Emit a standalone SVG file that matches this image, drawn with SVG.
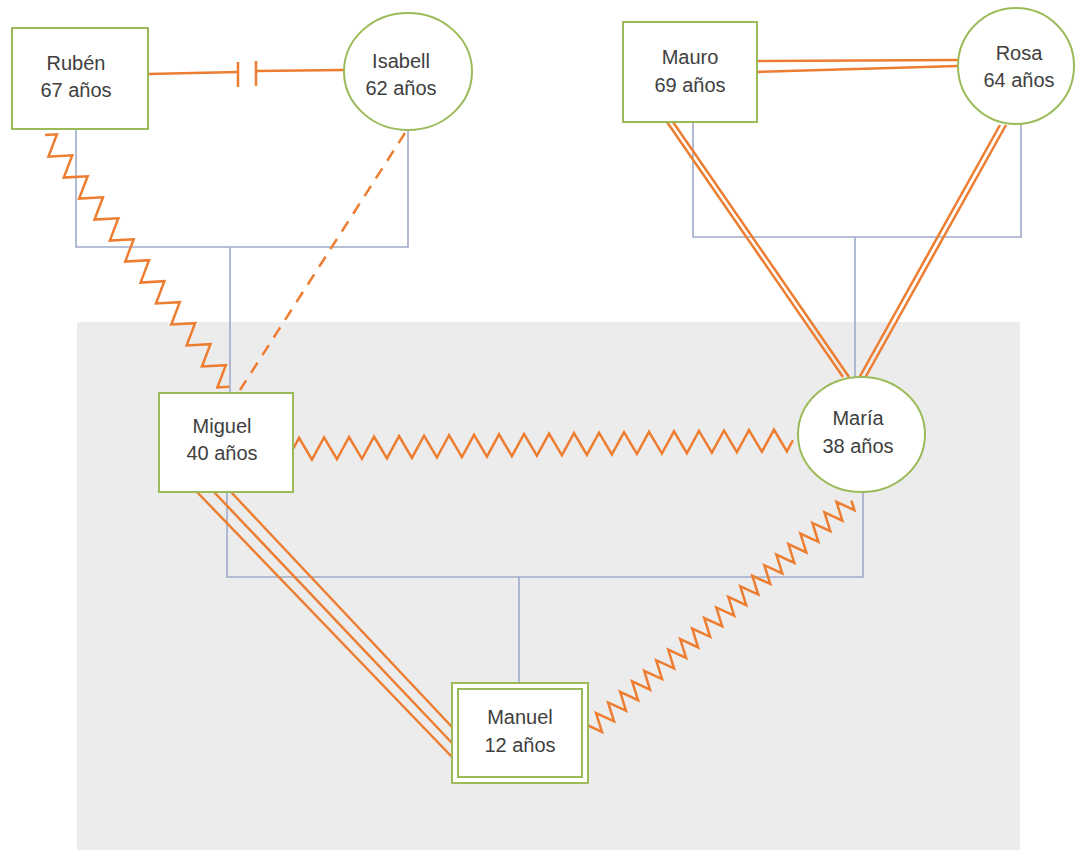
<svg xmlns="http://www.w3.org/2000/svg" width="1078" height="852" viewBox="0 0 1078 852">
<style>
.bg{fill:#ececec}
.fam{fill:none;stroke:#9fabc9;stroke-width:1.6}
.or{fill:none;stroke:#ed7d31;stroke-width:2.5;stroke-linejoin:miter}
.dash{fill:none;stroke:#ed7d31;stroke-width:2.5;stroke-dasharray:12 9}
.node{fill:#ffffff;stroke:#9bbb59;stroke-width:2}
.lbl{font-family:"Liberation Sans",Arial,sans-serif;font-size:20px;fill:#404040;text-anchor:middle}
</style>
<rect width="1078" height="852" fill="#ffffff"/>
<rect class="bg" x="77" y="322" width="943" height="528"/>

<g id="connectors">
  <!-- family (blue) lines -->
  <polyline class="fam" points="76,129 76,247 408,247 408,130"/>
  <line class="fam" x1="230" y1="247" x2="230" y2="393"/>
  <polyline class="fam" points="693,122 693,237 1021,237 1021,124"/>
  <line class="fam" x1="855" y1="237" x2="855" y2="377"/>
  <polyline class="fam" points="227,492 227,577 863,577 863,492"/>
  <line class="fam" x1="519" y1="577" x2="519" y2="683"/>

  <!-- Rubén - Isabell: cut-off -->
  <polyline class="or" points="148,74 238,72"/>
  <line class="or" x1="238" y1="62" x2="238" y2="87"/>
  <line class="or" x1="256" y1="61" x2="256" y2="86"/>
  <polyline class="or" points="256,71 344,70"/>

  <!-- Mauro - Rosa: double line -->
  <line class="or" x1="757" y1="61" x2="958" y2="60"/>
  <line class="or" x1="757" y1="72" x2="958" y2="66"/>

  <!-- Mauro - María double -->
  <line class="or" x1="667" y1="122" x2="843" y2="377"/>
  <line class="or" x1="673" y1="122" x2="849" y2="377"/>
  <!-- Rosa - María double -->
  <line class="or" x1="1000" y1="125" x2="859" y2="378"/>
  <line class="or" x1="1006" y1="125" x2="865" y2="378"/>

  <!-- Miguel - Manuel triple -->
  <line class="or" x1="197" y1="492" x2="452" y2="757"/>
  <line class="or" x1="214" y1="492" x2="452" y2="743"/>
  <line class="or" x1="231" y1="492" x2="452" y2="727"/>

  <!-- Isabell - Miguel dashed -->
  <line class="dash" x1="405" y1="133" x2="240" y2="390"/>

  <!-- Rubén - Miguel zigzag -->
  <g transform="translate(45,135) rotate(53.8)">
    <polyline class="or" points="0,0 6.5,-10 19.5,10 32.5,-10 45.5,10 58.5,-10 71.5,10 84.5,-10 97.5,10 110.5,-10 123.5,10 136.5,-10 149.5,10 162.5,-10 175.5,10 188.5,-10 201.5,10 214.5,-10 227.5,10 240.5,-10 253.5,10 266.5,-10 279.5,10 292.5,-10 305.5,10 312,0"/>
  </g>

  <!-- Miguel - María zigzag -->
  <g transform="translate(293,449) rotate(-1)">
    <polyline class="or" points="0,0 6.25,-11 18.75,11 31.25,-11 43.75,11 56.25,-11 68.75,11 81.25,-11 93.75,11 106.25,-11 118.75,11 131.25,-11 143.75,11 156.25,-11 168.75,11 181.25,-11 193.75,11 206.25,-11 218.75,11 231.25,-11 243.75,11 256.25,-11 268.75,11 281.25,-11 293.75,11 306.25,-11 318.75,11 331.25,-11 343.75,11 356.25,-11 368.75,11 381.25,-11 393.75,11 406.25,-11 418.75,11 431.25,-11 443.75,11 456.25,-11 468.75,11 481.25,-11 493.75,11 500,0"/>
  </g>

  <!-- Manuel - María zigzag -->
  <g transform="translate(587,733) rotate(-41.3)">
    <polyline class="or" points="0,0 4,-9 12,9 20,-9 28,9 36,-9 44,9 52,-9 60,9 68,-9 76,9 84,-9 92,9 100,-9 108,9 116,-9 124,9 132,-9 140,9 148,-9 156,9 164,-9 172,9 180,-9 188,9 196,-9 204,9 212,-9 220,9 228,-9 236,9 244,-9 252,9 260,-9 268,9 276,-9 284,9 292,-9 300,9 308,-9 316,9 324,-9 332,9 340,-9 348,9 352,0"/>
  </g>
</g>

<g id="ruben">
  <rect class="node" x="12" y="28" width="136" height="101"/>
  <text class="lbl" x="76" y="70">Rubén</text>
  <text class="lbl" x="76" y="97">67 años</text>
</g>
<g id="isabell">
  <ellipse class="node" cx="408" cy="71.5" rx="64" ry="58.5"/>
  <text class="lbl" x="401" y="68">Isabell</text>
  <text class="lbl" x="401" y="95">62 años</text>
</g>
<g id="mauro">
  <rect class="node" x="623" y="22" width="134" height="100"/>
  <text class="lbl" x="690" y="64">Mauro</text>
  <text class="lbl" x="690" y="92">69 años</text>
</g>
<g id="rosa">
  <ellipse class="node" cx="1016" cy="66" rx="58" ry="58"/>
  <text class="lbl" x="1019" y="60">Rosa</text>
  <text class="lbl" x="1019" y="87">64 años</text>
</g>
<g id="miguel">
  <rect class="node" x="159" y="393" width="134" height="99"/>
  <text class="lbl" x="222" y="433">Miguel</text>
  <text class="lbl" x="222" y="460">40 años</text>
</g>
<g id="maria">
  <ellipse class="node" cx="861.5" cy="434.5" rx="63.5" ry="57.5"/>
  <text class="lbl" x="858" y="425">María</text>
  <text class="lbl" x="858" y="453">38 años</text>
</g>
<g id="manuel">
  <rect class="node" x="452" y="683" width="136" height="100"/>
  <rect class="node" x="458" y="689" width="124" height="88"/>
  <text class="lbl" x="520" y="724">Manuel</text>
  <text class="lbl" x="520" y="752">12 años</text>
</g>
</svg>
